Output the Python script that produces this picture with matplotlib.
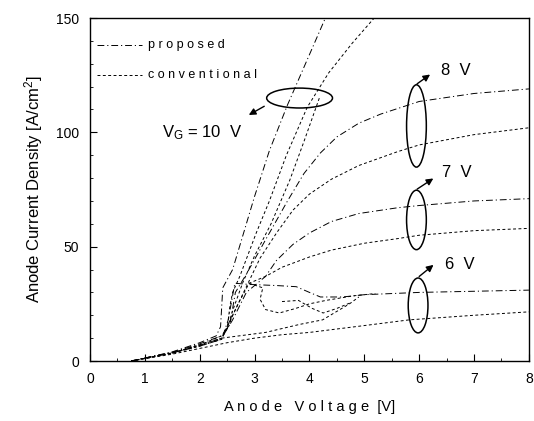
import matplotlib
matplotlib.use("Agg")
import matplotlib.pyplot as plt
from matplotlib.patches import Ellipse

plt.rcParams['font.family'] = ['Liberation Sans', 'DejaVu Sans']
plt.rcParams['mathtext.default'] = 'regular'

# proposed (dash-dot) curves
v_p10 = [0.75, 1.0, 1.5, 2.0, 2.3, 2.38, 2.42, 2.6, 2.8, 3.0, 3.27, 3.6, 4.0, 4.29]
j_p10 = [0, 1.3, 4, 8, 11, 15, 32, 40, 56, 72, 92, 112, 134, 150]
v_p8 = [0.75, 1.0, 1.5, 2.0, 2.4, 2.55, 2.65, 2.85, 3.2, 3.6, 3.9, 4.2, 4.5, 4.9, 5.3, 6, 7, 8]
j_p8 = [0, 1.3, 3.8, 7.5, 11, 16, 30, 38, 53, 70, 82, 91, 98, 104, 108, 113.5, 117, 119]
v_p7 = [0.75, 1.0, 1.5, 2.0, 2.4, 2.6, 2.85, 3.2, 3.4, 3.7, 4.0, 4.4, 4.9, 5.6, 6, 7, 8]
j_p7 = [0, 1.2, 3.5, 6.8, 10, 18, 30, 37, 44, 51, 56, 61, 64.5, 67, 68, 70, 71]
v_p6 = [0.75, 1.0, 1.5, 2.0, 2.4, 2.52, 2.64, 2.9, 3.4, 3.76, 4.0, 4.2, 4.6, 5, 6, 7, 8]
j_p6 = [0, 1.3, 3.6, 6.5, 9.5, 18, 34, 33.5, 33, 32.5, 30, 28, 28, 29, 30, 30.5, 31]

# conventional (dashed) curves
v_c10 = [0.75, 1.0, 1.5, 2.0, 2.4, 2.5, 2.55, 2.6, 2.73, 3.03, 3.27, 3.58, 3.96, 4.35, 4.78, 5.18]
j_c10 = [0, 1.2, 3.6, 7, 11, 14, 24, 30, 37, 56, 70, 90, 111, 126, 139, 150]
v_c10b = [2.5, 2.6, 2.78, 3.0, 3.3, 3.64, 3.9, 4.18]
j_c10b = [14, 22, 34, 46, 60, 79, 96, 115]
v_c8 = [0.75, 1.0, 1.5, 2.0, 2.4, 2.6, 2.8, 3.1, 3.4, 3.7, 4.0, 4.4, 4.9, 5.6, 6, 7, 8]
j_c8 = [0, 1.2, 3.5, 7, 10, 20, 30, 45, 56, 66, 73, 79.5, 85.5, 91.5, 94.5, 99, 102]
v_c7 = [0.75, 1.0, 1.5, 2.0, 2.4, 2.7, 2.9, 3.2, 3.5, 4.0, 4.4, 5.0, 5.6, 6, 7, 8]
j_c7 = [0, 1.2, 3.4, 6.5, 9.5, 25, 34, 37, 41, 45.5, 48.5, 51.5, 53.5, 55, 57, 58]
v_c6 = [0.75, 1.0, 1.5, 2.0, 2.5, 3.0, 3.5, 4.0, 5.0, 5.82, 7, 8]
j_c6 = [0, 1.0, 3.0, 5.5, 8, 10, 11.5, 12.5, 15.5, 18, 20, 21.5]
v_c6loop = [2.9, 3.15, 3.1, 3.2, 3.45, 3.75, 4.0, 4.3, 4.8, 5.2]
j_c6loop = [34, 32, 27, 22.5, 21, 23, 25, 26.5, 28.5, 29.5]
v_c6loop2 = [3.5, 3.8, 4.05, 4.25, 4.5, 4.75]
j_c6loop2 = [26, 26.5, 23, 21, 23, 25.5]
v_c6b = [2.4, 3.2, 3.82, 4.24, 4.73, 4.9]
j_c6b = [10, 12.5, 16, 18, 25, 28]

fig = plt.figure(figsize=(5.34, 4.21), dpi=100)
ax = fig.add_axes([0.1685, 0.1425, 0.822, 0.8147])

dd = (7, 3, 1.2, 3)
ds = (3, 2.5)
for v, j in [(v_p10, j_p10), (v_p8, j_p8), (v_p7, j_p7), (v_p6, j_p6)]:
    ax.plot(v, j, color='black', lw=0.7, dashes=dd)
for v, j in [(v_c10, j_c10), (v_c10b, j_c10b), (v_c8, j_c8), (v_c7, j_c7),
             (v_c6, j_c6), (v_c6loop, j_c6loop), (v_c6loop2, j_c6loop2), (v_c6b, j_c6b)]:
    ax.plot(v, j, color='black', lw=0.7, dashes=ds)

# legend drawn by hand, like the original
ax.plot([0.12, 0.95], [138, 138], color='black', lw=0.7, dashes=dd)
ax.text(1.05, 138, 'p r o p o s e d', fontsize=9, va='center')
ax.plot([0.12, 0.95], [125, 125], color='black', lw=0.7, dashes=ds)
ax.text(1.05, 125, 'c o n v e n t i o n a l', fontsize=9, va='center')

# ellipses, arrows and gate voltage labels
ells = [(3.82, 115, 1.2, 8.7), (5.95, 102.8, 0.36, 36), (5.95, 61.7, 0.36, 26), (5.98, 24.3, 0.36, 24)]
for cx, cy, w, h in ells:
    ax.add_patch(Ellipse((cx, cy), w, h, fill=False, ec='black', lw=1.1))

arr = dict(arrowstyle='-|>', color='black', lw=1, mutation_scale=10)
ax.annotate('', xy=(2.85, 107), xytext=(3.22, 112), arrowprops=arr)
ax.annotate('', xy=(6.24, 126), xytext=(5.92, 120.5), arrowprops=arr)
ax.annotate('', xy=(6.3, 80.5), xytext=(5.92, 74.5), arrowprops=arr)
ax.annotate('', xy=(6.3, 42.8), xytext=(5.96, 36.2), arrowprops=arr)

ax.text(2.05, 100, 'V$_G$ = 10  V', fontsize=12, ha='center', va='center')
ax.text(6.67, 127, '8  V', fontsize=12, ha='center', va='center')
ax.text(6.69, 82.6, '7  V', fontsize=12, ha='center', va='center')
ax.text(6.74, 42, '6  V', fontsize=12, ha='center', va='center')

ax.set_xlim(0, 8)
ax.set_ylim(0, 150)
ax.set_xticks(range(0, 9))
ax.set_yticks([0, 50, 100, 150])
ax.set_xticks([x + 0.5 for x in range(8)], minor=True)
ax.set_yticks([y for y in range(10, 150, 10) if y % 50], minor=True)
ax.tick_params(direction='in', which='major', length=5, labelsize=10, pad=8)
ax.tick_params(direction='in', which='minor', length=2.5)
for s in ax.spines.values():
    s.set_linewidth(1)

ax.set_xlabel('A n o d e   V o l t a g e  [V]', fontsize=10.5, labelpad=10)
ax.set_ylabel('Anode Current Density [A/cm$^2$]', fontsize=12, labelpad=8)

fig.savefig('out.png', dpi=100)
